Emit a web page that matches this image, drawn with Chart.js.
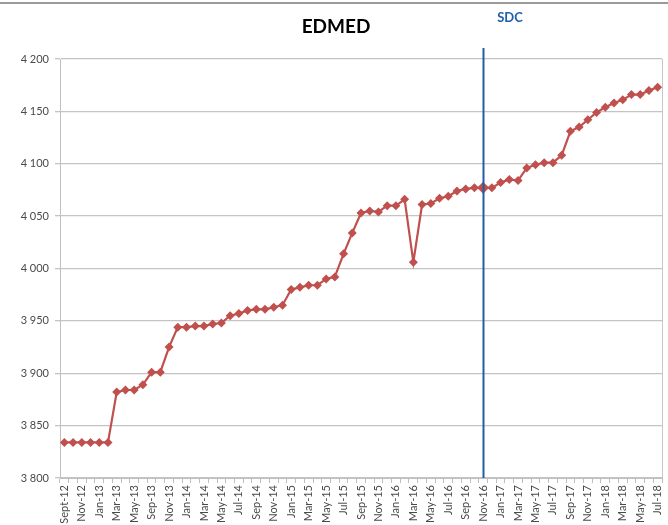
<!DOCTYPE html>
<html>
<head>
<meta charset="utf-8">
<script src="https://cdn.jsdelivr.net/npm/chart.js@4"></script>
<style>
  html, body { margin: 0; padding: 0; background: #fff; }
  #wrap { width: 668px; height: 525px; }
</style>
</head>
<body>
<div id="wrap"><canvas id="mychart" width="668" height="525"></canvas></div>
<script>
let mois = [
  'Sept-12','Oct-12','Nov-12','Dec-12','Jan-13','Feb-13','Mar-13','Apr-13','May-13','Jul-13',
  'Sep-13','Oct-13','Nov-13','Dec-13','Jan-14','Feb-14','Mar-14','Apr-14','May-14','Jun-14',
  'Jul-14','Aug-14','Sep-14','Oct-14','Nov-14','Dec-14','Jan-15','Feb-15','Mar-15','Apr-15',
  'May-15','Jun-15','Jul-15','Aug-15','Sep-15','Oct-15','Nov-15','Dec-15','Jan-16','Feb-16',
  'Mar-16','Apr-16','May-16','Jun-16','Jul-16','Aug-16','Sep-16','Oct-16','Nov-16','Dec-16',
  'Jan-17','Feb-17','Mar-17','Apr-17','May-17','Jun-17','Jul-17','Aug-17','Sep-17','Oct-17',
  'Nov-17','Dec-17','Jan-18','Feb-18','Mar-18','Apr-18','May-18','Jun-18','Jul-18'
];

let edmed = [
  3834,3834,3834,3834,3834,3834,3882,3884,3884,3889,
  3901,3901,3925,3944,3944,3945,3945,3947,3948,3955,
  3957,3960,3961,3961,3963,3965,3980,3982,3984,3984,
  3990,3992,4014,4034,4053,4055,4054,4060,4060,4066,
  4006,4061,4062,4067,4069,4074,4076,4077,4077,4077,
  4082,4085,4084,4096,4099,4101,4101,4108,4131,4135,
  4142,4149,4154,4158,4161,4166,4166,4170,4173
];

let titre = 'EDMED';
let sdc_label = 'SDC';
let sdc_mois = 'Nov-16';

let y_min = 3800;
let y_max = 4200;
let y_pas = 50;

function milliers(v){
  return String(v).replace(/\B(?=(\d{3})+(?!\d))/g, ' ');
}

let idx_sdc = mois.indexOf(sdc_mois);

// titre, ligne SDC, bordure
let decor = {
  id: 'decor',
  afterDraw(chart){
    let c = chart.ctx;
    let area = chart.chartArea;
    let x = chart.scales.x;
    c.save();
    // bordure haute du cadre
    c.strokeStyle = '#9a9a9a';
    c.lineWidth = 2;
    c.beginPath(); c.moveTo(0, 3); c.lineTo(668, 3); c.stroke();
    // bord droit de la zone de tracé
    c.strokeStyle = '#c8c8c8';
    c.lineWidth = 1;
    c.beginPath(); c.moveTo(area.right + 0.5, area.top); c.lineTo(area.right + 0.5, area.bottom); c.stroke();
    // titre
    c.fillStyle = '#000';
    c.font = 'bold 19px Lato, "Open Sans", sans-serif';
    c.textAlign = 'center';
    c.textBaseline = 'middle';
    c.fillText(titre, 336, 27);
    // ligne SDC
    let xs = Math.round(x.getPixelForValue(idx_sdc)) + 0.5;
    c.strokeStyle = '#1f5fa8';
    c.lineWidth = 2;
    c.beginPath(); c.moveTo(xs, 48); c.lineTo(xs, area.bottom); c.stroke();
    c.fillStyle = '#1f5fa8';
    c.font = 'bold 13px Lato, "Open Sans", sans-serif';
    c.fillText(sdc_label, 510, 18);
    c.restore();
  }
};

function grafico(ctx){
  let rayons = mois.map((m, i) => i === idx_sdc ? 6 : 4.5);
  return new Chart(ctx, {
    type: 'line',
    data: {
      labels: mois,
      datasets: [{
        label: titre,
        data: edmed,
        borderColor: '#c0504d',
        backgroundColor: '#c0504d',
        borderWidth: 2.2,
        pointStyle: 'rectRot',
        pointRadius: rayons,
        pointBorderWidth: 0,
        tension: 0
      }]
    },
    options: {
      responsive: false,
      animation: false,
      layout: { padding: { top: 59, right: 6, left: 0, bottom: 0 } },
      plugins: {
        legend: { display: false },
        title: { display: false },
        tooltip: { enabled: false }
      },
      scales: {
        x: {
          offset: true,
          grid: {
            display: true,
            drawOnChartArea: false,
            drawTicks: true,
            tickLength: 5,
            color: '#bfbfbf',
            offset: true
          },
          border: { color: '#bfbfbf' },
          ticks: {
            autoSkip: false,
            maxRotation: 90,
            minRotation: 90,
            padding: 2,
            color: '#4a4a4a',
            font: { family: 'Lato, "Open Sans", sans-serif', size: 11 },
            callback: function(v, i){ return i % 2 === 0 ? mois[i] : ''; }
          },
          afterFit: s => { s.height = 47; s.paddingLeft = 0; s.paddingRight = 0; }
        },
        y: {
          min: y_min,
          max: y_max,
          ticks: {
            stepSize: y_pas,
            padding: 6,
            color: '#4a4a4a',
            font: { family: 'Lato, "Open Sans", sans-serif', size: 11 },
            callback: v => milliers(v)
          },
          grid: { color: '#c4c4c4', tickLength: 5, lineWidth: 1.3 },
          border: { color: '#bfbfbf' },
          afterFit: s => { s.width = 60; }
        }
      }
    },
    plugins: [decor]
  });
}

let ctx = document.getElementById('mychart');
let chart = grafico(ctx);
</script>
</body>
</html>
